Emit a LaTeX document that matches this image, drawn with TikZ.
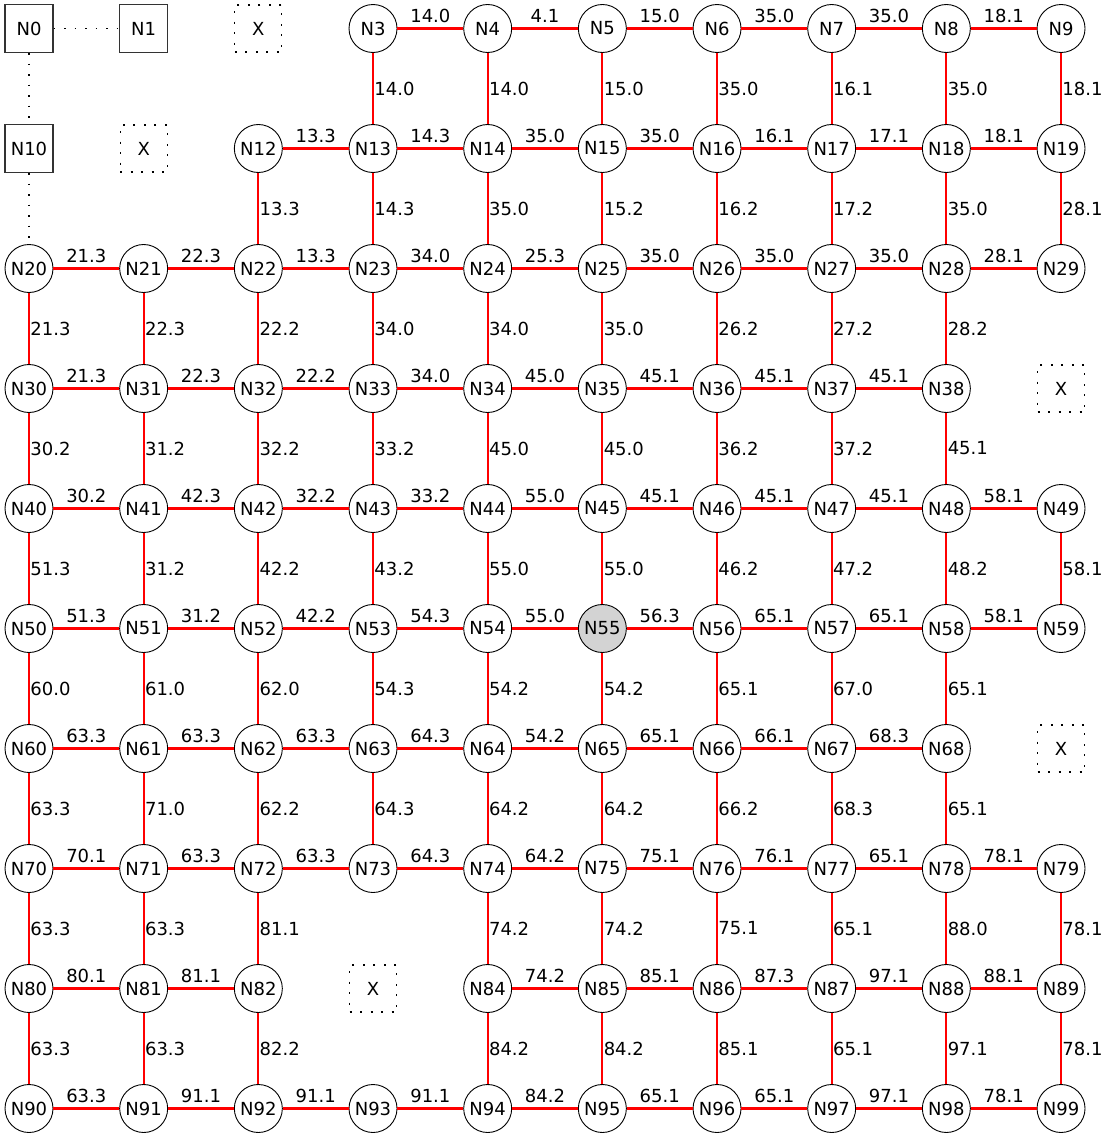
\documentclass[tikz,border=0pt]{standalone}
\usepackage{fontspec}
\setmainfont{DejaVu Sans}
\definecolor{nodegray}{HTML}{D3D3D3}
\tikzset{
  cn/.style={circle, draw=black, line width=0.9pt, fill=white, minimum size=48pt, inner sep=0pt},
  sq/.style={rectangle, draw=black!80, line width=1.2pt, fill=white, minimum size=48pt, inner sep=0pt},
  xn/.style={rectangle, draw=black, line width=1.2pt, dash pattern=on 2pt off 8.5pt, minimum size=47pt, inner sep=0pt},
  redge/.style={draw=red, line width=2.2pt},
  dotedge/.style={draw=black, line width=1.2pt, dash pattern=on 1.5pt off 9pt},
  hl/.style={anchor=base, yshift=6pt, inner sep=0pt},
  vl/.style={anchor=west, inner sep=0pt, xshift=0.3pt},
}
\begin{document}
\begin{tikzpicture}[x=114.67pt, y=-120pt, font=\fontsize{18}{21}\selectfont]
\useasboundingbox (-0.2529,-0.2375) rectangle (9.4183,9.2542);
% circle nodes
\foreach \r in {0,...,9}{
  \foreach \c in {0,...,9}{
    \pgfmathtruncatemacro\n{10*\r+\c}
    \pgfmathtruncatemacro\sk{(\n==0)+(\n==1)+(\n==2)+(\n==10)+(\n==11)+(\n==39)+(\n==69)+(\n==83)+(\n==55)}
    \ifnum\sk=0
      \node[cn] (N\n) at (\c,\r) {N\n};
    \fi
  }
}
\node[cn, fill=nodegray] (N55) at (5,5) {N55};
% square nodes
\node[sq] (N0) at (0,0) {N0};
\node[sq] (N1) at (1,0) {N1};
\node[sq] (N10) at (0,1) {N10};
% X placeholders
\node[xn] (X2) at (2,0) {X};
\node[xn] (X11) at (1,1) {X};
\node[xn] (X39) at (9,3) {X};
\node[xn] (X69) at (9,6) {X};
\node[xn] (X83) at (3,8) {X};
% dotted edges
\draw[dotedge] (N0) -- (N1);
\draw[dotedge] (N0) -- (N10);
\draw[dotedge] (N10) -- (N20);
% horizontal edges
\foreach \a/\lab in {3/14.0,4/4.1,5/15.0,6/35.0,7/35.0,8/18.1,
  12/13.3,13/14.3,14/35.0,15/35.0,16/16.1,17/17.1,18/18.1,
  20/21.3,21/22.3,22/13.3,23/34.0,24/25.3,25/35.0,26/35.0,27/35.0,28/28.1,
  30/21.3,31/22.3,32/22.2,33/34.0,34/45.0,35/45.1,36/45.1,37/45.1,
  40/30.2,41/42.3,42/32.2,43/33.2,44/55.0,45/45.1,46/45.1,47/45.1,48/58.1,
  50/51.3,51/31.2,52/42.2,53/54.3,54/55.0,55/56.3,56/65.1,57/65.1,58/58.1,
  60/63.3,61/63.3,62/63.3,63/64.3,64/54.2,65/65.1,66/66.1,67/68.3,
  70/70.1,71/63.3,72/63.3,73/64.3,74/64.2,75/75.1,76/76.1,77/65.1,78/78.1,
  80/80.1,81/81.1,84/74.2,85/85.1,86/87.3,87/97.1,88/88.1,
  90/63.3,91/91.1,92/91.1,93/91.1,94/84.2,95/65.1,96/65.1,97/97.1,98/78.1}{
  \pgfmathtruncatemacro\b{\a+1}
  \draw[redge] (N\a) -- node[hl]{\lab} (N\b);
}
% vertical edges
\foreach \a/\lab in {3/14.0,4/14.0,5/15.0,6/35.0,7/16.1,8/35.0,9/18.1,
  12/13.3,13/14.3,14/35.0,15/15.2,16/16.2,17/17.2,18/35.0,19/28.1,
  20/21.3,21/22.3,22/22.2,23/34.0,24/34.0,25/35.0,26/26.2,27/27.2,28/28.2,
  30/30.2,31/31.2,32/32.2,33/33.2,34/45.0,35/45.0,36/36.2,37/37.2,38/45.1,
  40/51.3,41/31.2,42/42.2,43/43.2,44/55.0,45/55.0,46/46.2,47/47.2,48/48.2,49/58.1,
  50/60.0,51/61.0,52/62.0,53/54.3,54/54.2,55/54.2,56/65.1,57/67.0,58/65.1,
  60/63.3,61/71.0,62/62.2,63/64.3,64/64.2,65/64.2,66/66.2,67/68.3,68/65.1,
  70/63.3,71/63.3,72/81.1,74/74.2,75/74.2,76/75.1,77/65.1,78/88.0,79/78.1,
  80/63.3,81/63.3,82/82.2,84/84.2,85/84.2,86/85.1,87/65.1,88/97.1,89/78.1}{
  \pgfmathtruncatemacro\b{\a+10}
  \draw[redge] (N\a) -- node[vl]{\lab} (N\b);
}
\end{tikzpicture}
\end{document}
